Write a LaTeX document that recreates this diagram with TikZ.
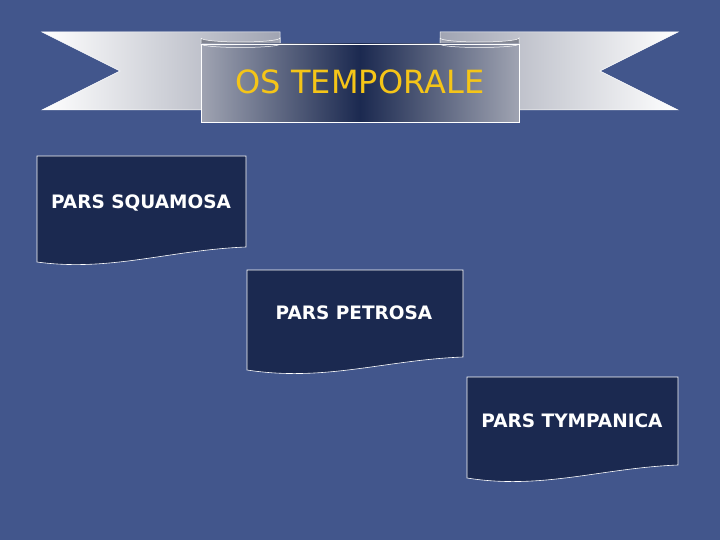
\documentclass[tikz,border=0pt]{standalone}
\usepackage{fontspec}
\setmainfont{DejaVu Sans}
\usepackage{xcolor}
\definecolor{slideBlue}{RGB}{66, 86, 140}
\definecolor{boxNavy}{RGB}{27, 41, 80}
\definecolor{titleGold}{RGB}{245, 197, 24}
\definecolor{rollGray}{RGB}{160, 164, 178}

\begin{document}
\begin{tikzpicture}[x=1pt, y=-1pt]
                \useasboundingbox (0,0) rectangle (720,540);
                \fill[slideBlue] (0,0) rectangle (720,540);
                % back ribbons
                \shade[left color=white, right color=rollGray, draw=white, line width=0.5pt] (42,32) -- (280,32) -- (280,110) -- (42,110) -- (120,71) -- cycle;
                \shade[left color=rollGray, right color=white, draw=white, line width=0.5pt] (678,32) -- (440,32) -- (440,110) -- (678,110) -- (600,71) -- cycle;
                \shade[left color=rollGray!80!black, right color=rollGray, draw=white, line width=0.5pt] (201,38) -- (201,46) -- (280,46) -- (280,38) arc (0:180:39.5 and 4);
                \shade[left color=rollGray, right color=rollGray!80!black, draw=white, line width=0.5pt] (440,38) -- (440,46) -- (519,46) -- (519,38) arc (0:180:39.5 and 4);
                % front panel
                \shade[left color=rollGray, right color=rollGray, middle color=boxNavy, draw=white, line width=0.5pt] (201,44) -- (201,122) -- (519,122) -- (519,44) -- (201,44) -- cycle;
                \draw[white, line width=0.5pt] (201,44) arc (180:0:39.5 and 3.5);
                \draw[white, line width=0.5pt] (440,44) arc (180:0:39.5 and 3.5);
                \node[text=titleGold, font=\fontsize{32}{36}\selectfont] (title) at (360,82) {OS TEMPORALE};
                % parts
                \draw[white, fill=boxNavy, line width=0.6pt] (37,156) -- (246,156) -- (246,247) .. controls (170,250) and (110,272) .. (37,262) -- cycle;
                \node[white, font=\bfseries\fontsize{18.5}{22}\selectfont] (squamosa) at (141,203) {PARS SQUAMOSA};
                \draw[white, fill=boxNavy, line width=0.6pt] (247,270) -- (463,270) -- (463,357) .. controls (385,360) and (325,382) .. (247,370) -- cycle;
                \node[white, font=\bfseries\fontsize{18.5}{22}\selectfont] (petrosa) at (354,313) {PARS PETROSA};
                \draw[white, fill=boxNavy, line width=0.6pt] (467,377) -- (678,377) -- (678,465) .. controls (602,468) and (542,490) .. (467,478) -- cycle;
                \node[white, font=\bfseries\fontsize{18.5}{22}\selectfont] (tympanica) at (572,421) {PARS TYMPANICA};
            \end{tikzpicture}
\end{document}
